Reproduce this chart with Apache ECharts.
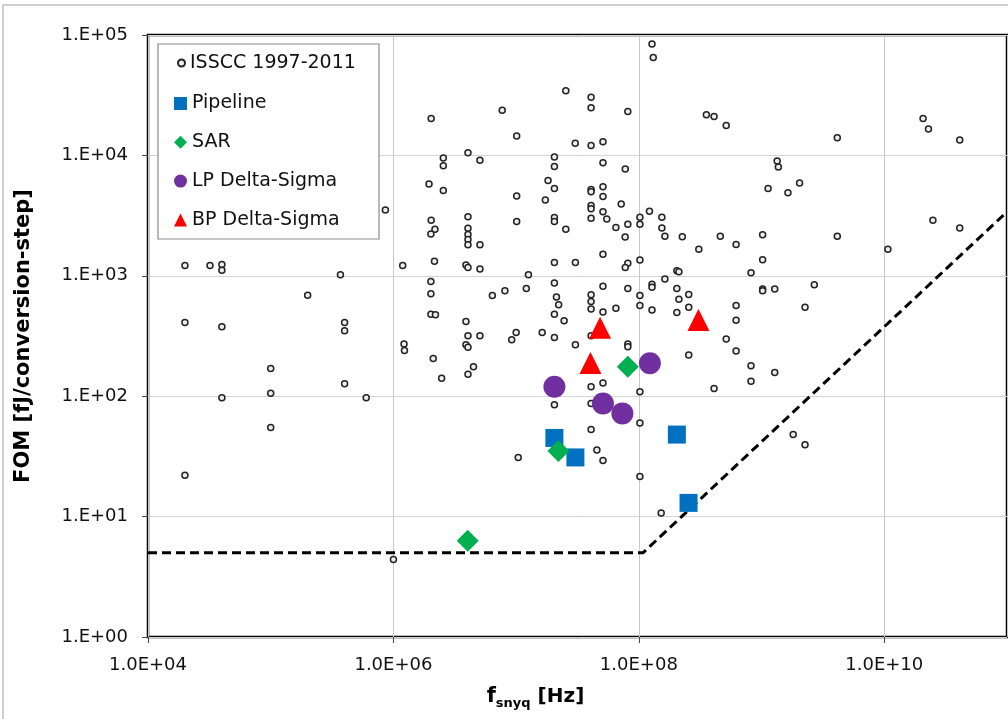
<!DOCTYPE html>
<html><head><meta charset="utf-8">
<script src="https://cdn.jsdelivr.net/npm/echarts@6/dist/echarts.min.js"></script>
<style>html,body{margin:0;padding:0;background:#fff}#c{width:1008px;height:719px}</style>
</head><body><div id="c"></div><script>
// ---- data (x: f_snyq in Hz, y: FOM in fJ/conversion-step) ----
const isscc = [
[2.0e4,1220],[3.2e4,1220],[4.0e4,1240],[4.0e4,1110],[1.19e6,1220],[3.7e5,1020],[2.0e5,690],[2.0e4,410],[4.0e4,377],[4.0e5,410],[4.0e5,349],[1.0e5,170],[1.0e5,106],[1.0e5,55],[4.0e4,97],[4.0e5,127],[6.0e5,97],[2.0e4,22.1],[1.0e6,4.4],[8.6e5,3520],[1.22e6,272],[1.23e6,240],
[2.03e6,20300],[1.95e6,5800],[2.03e6,2900],[2.18e6,2430],[2.02e6,2220],[2.16e6,1320],[2.02e6,895],[2.02e6,708],[2.02e6,480],[2.2e6,474],[2.11e6,206],[2.47e6,141],[2.55e6,9500],[2.55e6,8200],[2.55e6,5100],
[4.05e6,10500],[5.07e6,9100],[4.05e6,3100],[4.05e6,2480],[4.05e6,2200],[4.05e6,2000],[4.05e6,1810],[5.07e6,1810],[3.9e6,1230],[4.05e6,1170],[5.07e6,1140],[3.9e6,417],[4.05e6,318],[5.07e6,318],[3.9e6,267],[4.05e6,255],[4.49e6,176],[4.05e6,152],[6.4e6,687],
[7.7e6,23700],[1.01e7,14500],[1.01e7,4600],[1.01e7,2830],[8.1e6,750],[1.26e7,1020],[1.21e7,785],[1.0e7,338],[9.2e6,295],[1.04e7,31],
[2.54e7,34500],[2.05e7,9700],[2.05e7,8100],[1.82e7,6200],[2.05e7,5300],[1.73e7,4270],[2.05e7,3050],[2.05e7,2830],[2.54e7,2430],[2.05e7,1290],[3.04e7,1290],[2.05e7,873],[2.13e7,666],[2.22e7,574],[2.05e7,480],[2.46e7,423],[1.63e7,338],[2.05e7,308],[3.03e7,12600],[3.04e7,267],[2.05e7,85],
[4.08e7,30400],[4.08e7,24900],[4.08e7,12100],[4.08e7,5200],[4.08e7,5000],[4.08e7,3830],[4.08e7,3600],[4.08e7,3010],[4.08e7,695],[4.08e7,611],[4.08e7,531],[4.08e7,318],[4.08e7,120],[4.08e7,87],[4.08e7,53],[4.55e7,35.7],
[5.1e7,13000],[5.1e7,8700],[5.1e7,5500],[5.1e7,4550],[5.1e7,3400],[5.48e7,2970],[5.1e7,1510],[5.1e7,817],[5.1e7,501],[5.1e7,129],[5.1e7,29.2],
[7.18e7,3950],[6.5e7,2520],[8.13e7,2680],[7.73e7,2100],[8.13e7,1270],[7.75e7,1170],[6.5e7,538],[8.13e7,785],[8.13e7,272],[8.13e7,258],[8.13e7,23200],[7.75e7,7700],
[1.02e8,3070],[1.02e8,2680],[1.02e8,1350],[1.02e8,687],[1.02e8,568],[1.02e8,109],[1.02e8,60],[1.02e8,21.5],
[1.28e8,84000],[1.31e8,65000],[1.22e8,3440],[1.54e8,3070],[1.54e8,2500],[1.63e8,2130],[1.63e8,940],[1.28e8,849],[1.28e8,802],[1.28e8,521],[1.52e8,10.7],
[2.04e8,1100],[2.12e8,1080],[2.04e8,785],[2.12e8,640],[2.04e8,495],[2.26e8,2110],[2.55e8,701],[2.55e8,547],[2.55e8,220],[3.08e8,1660],
[3.55e8,21800],[4.1e8,21000],[5.15e8,17700],[4.61e8,2130],[6.2e8,1820],[6.2e8,568],[6.2e8,427],[5.15e8,298],[6.2e8,237],[4.1e8,116],
[1.34e9,9000],[1.37e9,8000],[1.13e9,5300],[1.64e9,4900],[2.04e9,5900],[1.02e9,2190],[1.02e9,1360],[8.2e8,1060],[1.02e9,778],[1.02e9,750],[1.28e9,778],[2.69e9,841],[2.26e9,547],[8.2e8,179],[8.2e8,133],[1.28e9,157],[1.81e9,48],[2.26e9,39.5],
[4.14e9,14000],[4.14e9,2130],[1.07e10,1660],[2.07e10,20300],[2.29e10,16600],[4.12e10,13400],[2.49e10,2900],[4.12e10,2500]
];
const pipeline = [[2.05e7,45],[3.04e7,31],[2.04e8,48],[2.54e8,13]];
const sar = [[8.13e7,176],[2.21e7,35],[4.03e6,6.3]];
const lpDeltaSigma = [[1.23e8,188],[2.05e7,120],[5.1e7,87],[7.34e7,72]];
const bpDeltaSigma = [[4.83e7,370],[3.06e8,430],[4.03e7,189]];
const limitLine = [[1e4,5],[1.08e8,5],[1e11,3400]];
const xTickLabels = ['1.0E+04','1.0E+06','1.0E+08','1.0E+10'];
const yTickLabels = ['1.E+00','1.E+01','1.E+02','1.E+03','1.E+04','1.E+05'];
const seriesNames = ['ISSCC 1997-2011','Pipeline','SAR','LP Delta-Sigma','BP Delta-Sigma'];

const F = 'DejaVu Sans';
const chart = echarts.init(document.getElementById('c'), null, {renderer:'canvas'});
const expOf = v => Math.round(Math.log10(v));
const option = {
  animation:false,
  backgroundColor:'#fff',
  grid:{left:148,top:35,right:1,bottom:82,show:true,borderColor:'#000',borderWidth:2.5,backgroundColor:'transparent',containLabel:false,outerBoundsMode:'none'},
  xAxis:{
    type:'log', logBase:100, min:1e4, max:1e11,
    axisLine:{show:false},
    axisTick:{show:true,length:6,lineStyle:{color:'#444',width:1}},
    splitLine:{show:true,lineStyle:{color:'#c8c8c8',width:1}},
    axisLabel:{show:true,showMaxLabel:false,margin:18,fontFamily:F,fontSize:18,lineHeight:20,color:'#111',
      formatter:v=>{const i=(expOf(v)-4)/2; return (i>=0&&i<xTickLabels.length&&Number.isInteger(i))?xTickLabels[i]:'';}},
    name:'{f|f}{s|snyq}{h| [Hz]}', nameLocation:'middle', nameGap:47,
    nameTextStyle:{padding:[0,84,0,0],rich:{
      f:{fontFamily:F,fontWeight:'bold',fontSize:21,lineHeight:26,color:'#000'},
      s:{fontFamily:F,fontWeight:'bold',fontSize:13,lineHeight:14,verticalAlign:'bottom',color:'#000'},
      h:{fontFamily:F,fontWeight:'bold',fontSize:20,lineHeight:26,color:'#000'}}}
  },
  yAxis:{
    type:'log', logBase:10, min:1, max:1e5,
    axisLine:{show:false},
    axisTick:{show:true,length:6,lineStyle:{color:'#444',width:1}},
    splitLine:{show:true,lineStyle:{color:'#d4d4d4',width:1}},
    axisLabel:{margin:20,fontFamily:F,fontSize:18,color:'#111',
      formatter:v=>{const e=expOf(v); return yTickLabels[e]||'';}},
    name:'FOM [fJ/conversion-step]', nameLocation:'middle', nameGap:114, nameRotate:90,
    nameTextStyle:{fontFamily:F,fontWeight:'bold',fontSize:21,color:'#000'}
  },
  legend:[
    {data:[seriesNames[0]], orient:'vertical', left:177, top:52, padding:0, itemWidth:7, itemHeight:7,
     textStyle:{fontFamily:F,fontSize:19,lineHeight:22,color:'#111'}, selectedMode:false},
    {data:seriesNames.slice(1), orient:'vertical', left:174, top:92.5, padding:0, itemWidth:13, itemHeight:13, itemGap:16.8,
     textStyle:{fontFamily:F,fontSize:19,lineHeight:22,color:'#111'}, selectedMode:false}
  ],
  graphic:[
    {type:'rect', z:0, silent:true, shape:{x:3,y:5,width:1200,height:900}, style:{fill:'none',stroke:'#c0c0c0',lineWidth:1.5}},
    {type:'rect', z:3, silent:true, shape:{x:158,y:44,width:221,height:195}, style:{fill:'#fff',stroke:'#8c8c8c',lineWidth:1.2}}
  ],
  series:[
    {name:seriesNames[0], type:'scatter', data:isscc, symbol:'circle', symbolSize:6, z:2,
     itemStyle:{color:'#eeeeee',borderColor:'#222',borderWidth:1.5,opacity:1}},
    {name:'limit', type:'line', data:limitLine, showSymbol:false, symbol:'none', z:3,
     lineStyle:{color:'#000',width:3,type:[9,5]}},
    {name:seriesNames[1], type:'scatter', data:pipeline, symbol:'rect', symbolSize:18, z:4, itemStyle:{color:'#0070C0',opacity:1}},
    {name:seriesNames[2], type:'scatter', data:sar, symbol:'diamond', symbolSize:22, z:4, itemStyle:{color:'#00B050',opacity:1}},
    {name:seriesNames[3], type:'scatter', data:lpDeltaSigma, symbol:'circle', symbolSize:22, z:4, itemStyle:{color:'#7030A0',opacity:1}},
    {name:seriesNames[4], type:'scatter', data:bpDeltaSigma, symbol:'triangle', symbolSize:22, z:4, itemStyle:{color:'#FF0000',opacity:1}}
  ]
};
chart.setOption(option);
</script></body></html>
